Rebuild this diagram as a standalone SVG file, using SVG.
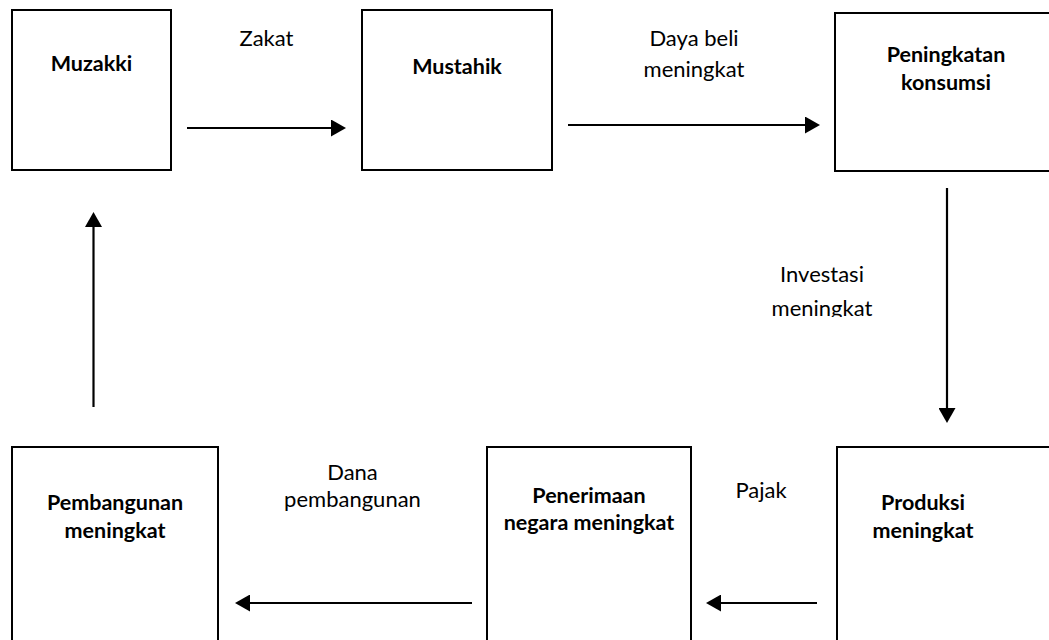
<svg xmlns="http://www.w3.org/2000/svg" width="1049" height="640" viewBox="0 0 1049 640">
<style>
.box{fill:#fff;stroke:#000;stroke-width:2}
.lbl{font-family:Lato,"Open Sans","Liberation Sans",sans-serif;font-size:22px;fill:#000;text-anchor:middle}
.b{font-weight:bold;font-size:21.5px}
.con{stroke:#000;stroke-width:2.2;fill:none;marker-end:url(#ah)}
</style>
<defs>
<marker id="ah" markerUnits="userSpaceOnUse" markerWidth="16" markerHeight="17" refX="0" refY="8.5" orient="auto">
<path d="M0,0 L15,8.5 L0,17 Z" fill="#000"/>
</marker>
<clipPath id="clipInv"><rect x="700" y="250" width="250" height="67"/></clipPath>
</defs>
<rect width="1049" height="640" fill="#fff"/>
<g id="muzakki">
<rect class="box" x="12" y="10" width="159" height="160"/>
<text class="lbl b" x="91.5" y="71">Muzakki</text>
</g>
<g id="mustahik">
<rect class="box" x="362" y="10" width="190" height="160"/>
<text class="lbl b" x="457" y="74">Mustahik</text>
</g>
<g id="peningkatan-konsumsi">
<rect class="box" x="835" y="13" width="230" height="158"/>
<text class="lbl b" x="946" y="62">Peningkatan</text>
<text class="lbl b" x="946" y="90">konsumsi</text>
</g>
<g id="produksi-meningkat">
<rect class="box" x="837" y="447" width="230" height="210"/>
<text class="lbl b" x="923" y="510">Produksi</text>
<text class="lbl b" x="923" y="538">meningkat</text>
</g>
<g id="penerimaan-negara">
<rect class="box" x="487" y="447" width="204" height="210"/>
<text class="lbl b" x="589" y="503">Penerimaan</text>
<text class="lbl b" x="589" y="530">negara meningkat</text>
</g>
<g id="pembangunan-meningkat">
<rect class="box" x="12" y="447" width="206" height="210"/>
<text class="lbl b" x="115" y="510">Pembangunan</text>
<text class="lbl b" x="115" y="538">meningkat</text>
</g>
<g id="connectors">
<line class="con" x1="187" y1="128" x2="331" y2="128"/>
<line class="con" x1="568" y1="125" x2="805" y2="125"/>
<line class="con" x1="947" y1="188" x2="947" y2="408"/>
<line class="con" x1="817" y1="603" x2="721" y2="603"/>
<line class="con" x1="472" y1="603" x2="250" y2="603"/>
<line class="con" x1="93.5" y1="407" x2="93.5" y2="227"/>
<text class="lbl" x="266.5" y="46">Zakat</text>
<text class="lbl" x="694" y="46">Daya beli</text>
<text class="lbl" x="694" y="77">meningkat</text>
<g clip-path="url(#clipInv)">
<text class="lbl" x="822" y="282">Investasi</text>
<text class="lbl" x="822" y="316">meningkat</text>
</g>
<text class="lbl" x="761" y="498">Pajak</text>
<text class="lbl" x="352.5" y="480">Dana</text>
<text class="lbl" x="352.5" y="507">pembangunan</text>
</g>
</svg>
